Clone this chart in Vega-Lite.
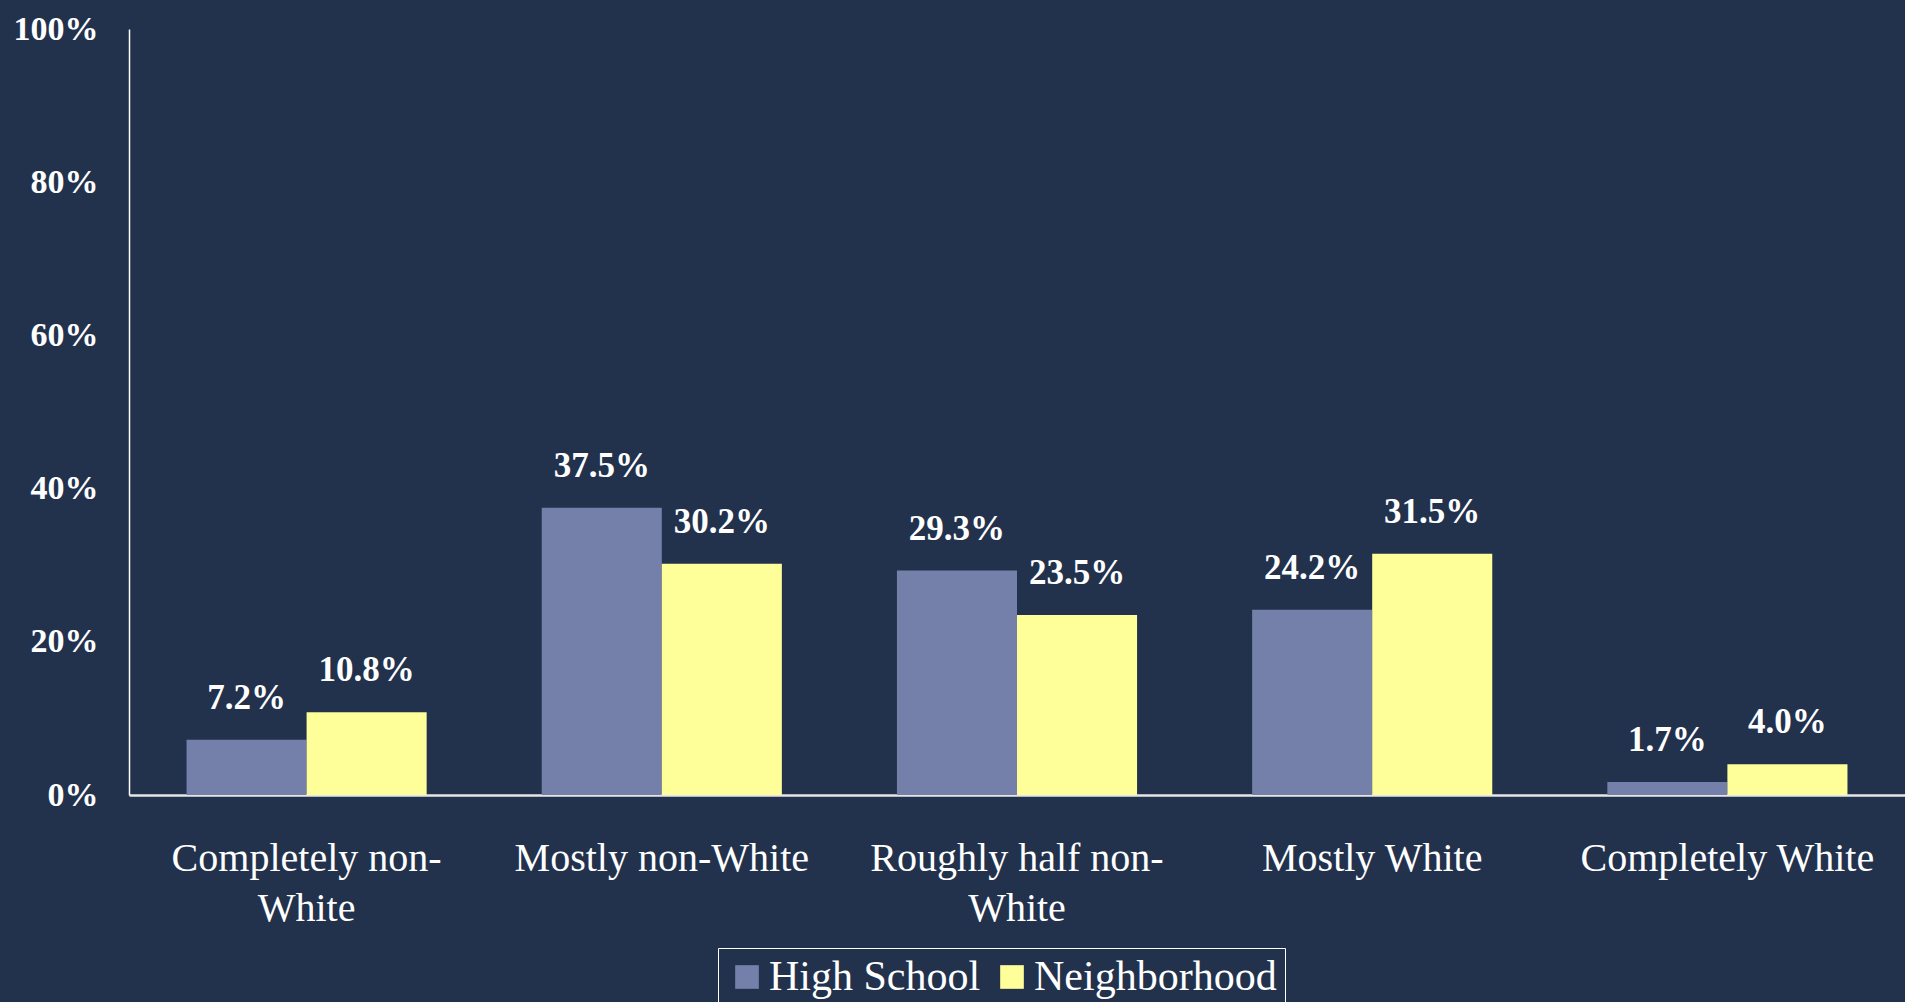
{
  "$schema": "https://vega.github.io/schema/vega-lite/v6.json",
  "autosize": {"type": "none"},
  "padding": {"left": 129, "top": 29, "right": 0, "bottom": 207},
  "width": 1776,
  "height": 766,
  "background": "#22324D",
  "config": {"view": {"stroke": null}, "font": "Liberation Serif"},
  "data": {
    "values": [
      {"category": "Completely non-White", "series": "High School", "value": 0.072},
      {"category": "Completely non-White", "series": "Neighborhood", "value": 0.108},
      {"category": "Mostly non-White", "series": "High School", "value": 0.375},
      {"category": "Mostly non-White", "series": "Neighborhood", "value": 0.302},
      {"category": "Roughly half non-White", "series": "High School", "value": 0.293},
      {"category": "Roughly half non-White", "series": "Neighborhood", "value": 0.235},
      {"category": "Mostly White", "series": "High School", "value": 0.242},
      {"category": "Mostly White", "series": "Neighborhood", "value": 0.315},
      {"category": "Completely White", "series": "High School", "value": 0.017},
      {"category": "Completely White", "series": "Neighborhood", "value": 0.040}
    ]
  },
  "encoding": {
    "x": {
      "field": "category",
      "type": "nominal",
      "sort": ["Completely non-White", "Mostly non-White", "Roughly half non-White", "Mostly White", "Completely White"],
      "scale": {"paddingInner": 0.324, "paddingOuter": 0.162},
      "axis": {
        "title": null,
        "labelAngle": 0,
        "labelFontSize": 40,
        "labelColor": "#FFFFFF",
        "labelBaseline": "alphabetic",
        "labelPadding": 75,
        "labelLineHeight": 50,
        "labelLimit": 0,
        "ticks": false,
        "domainColor": "#E6E6E6",
        "domainWidth": 2.5,
        "labelExpr": "datum.label == 'Completely non-White' ? ['Completely non-', 'White'] : datum.label == 'Roughly half non-White' ? ['Roughly half non-', 'White'] : datum.label"
      }
    },
    "xOffset": {"field": "series", "sort": ["High School", "Neighborhood"]},
    "y": {
      "field": "value",
      "type": "quantitative",
      "scale": {"domain": [0, 1], "nice": false},
      "axis": {
        "title": null,
        "values": [0, 0.2, 0.4, 0.6, 0.8, 1],
        "format": ".0%",
        "labelFontSize": 34,
        "labelFontWeight": "bold",
        "labelColor": "#FFFFFF",
        "labelPadding": 31,
        "ticks": false,
        "grid": false,
        "domainColor": "#FFFFFF",
        "domainWidth": 1.5
      }
    }
  },
  "layer": [
    {
      "mark": {"type": "bar"},
      "encoding": {
        "color": {
          "field": "series",
          "type": "nominal",
          "scale": {"domain": ["High School", "Neighborhood"], "range": ["#7480AA", "#FFFF99"]},
          "legend": {
            "title": null,
            "orient": "none",
            "legendX": 589,
            "legendY": 919,
            "direction": "horizontal",
            "strokeColor": "#FFFFFF",
            "padding": 8,
            "labelFontSize": 42,
            "labelLimit": 0,
            "labelColor": "#FFFFFF",
            "symbolType": "square",
            "symbolSize": 560,
            "symbolStrokeWidth": 0,
            "labelOffset": 1,
            "columnPadding": 10
          }
        }
      }
    },
    {
      "mark": {"type": "text", "dy": -31, "baseline": "alphabetic", "fontSize": 35, "fontWeight": "bold", "color": "#FFFFFF"},
      "encoding": {
        "text": {"field": "value", "type": "quantitative", "format": ".1%"}
      }
    }
  ]
}
